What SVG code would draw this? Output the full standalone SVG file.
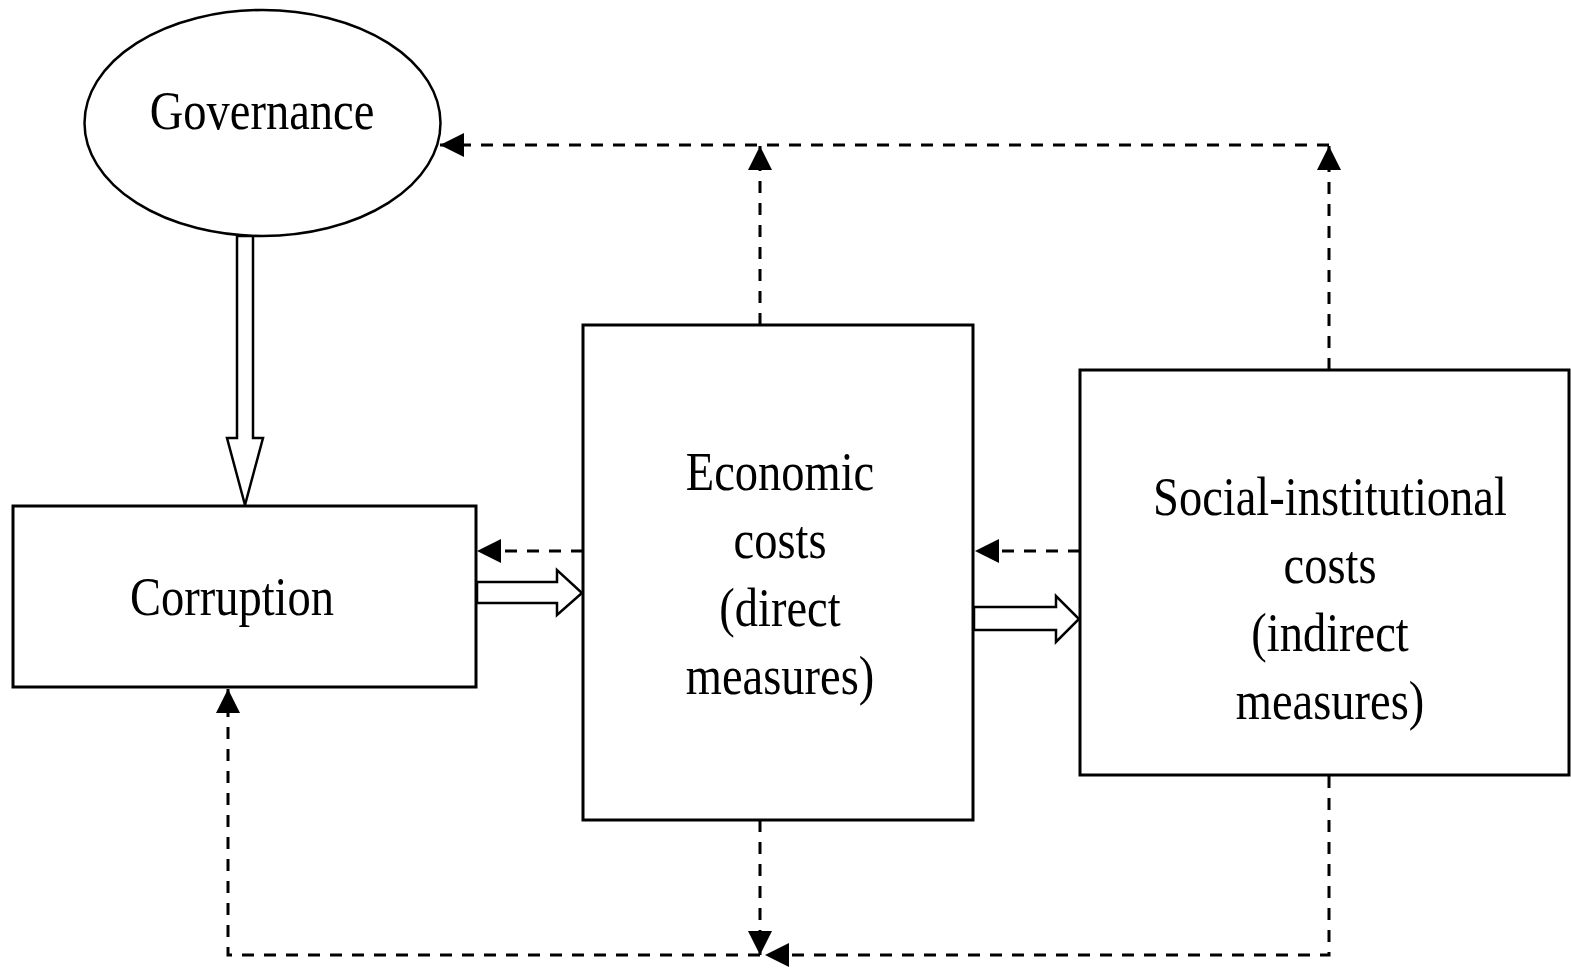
<svg xmlns="http://www.w3.org/2000/svg" width="1571" height="970" viewBox="0 0 1571 970">
<style>
.box{fill:#fff;stroke:#000;stroke-width:3}
.lbl{font-family:"Liberation Serif","Times New Roman",serif;font-size:46.5px;fill:#000;text-anchor:middle}
.dash{fill:none;stroke:#000;stroke-width:3;stroke-dasharray:12 10}
.hollow{fill:#fff;stroke:#000;stroke-width:2.5;stroke-linejoin:miter}
</style>
<defs>
<marker id="ah" viewBox="0 0 24 24" refX="24" refY="12" markerWidth="24" markerHeight="26" markerUnits="userSpaceOnUse" orient="auto">
<path d="M0,0 L24,12 L0,24 z" fill="#000"/>
</marker>
</defs>
<rect width="1571" height="970" fill="#fff"/>
<g id="connectors">
<path class="dash" d="M1329,370 V146" marker-end="url(#ah)"/>
<path class="dash" d="M1329,145 H440" marker-end="url(#ah)"/>
<path class="dash" d="M760,325 V146" marker-end="url(#ah)"/>
<path class="dash" d="M760,820 V955" marker-end="url(#ah)"/>
<path class="dash" d="M1329,776 V955 H765" marker-end="url(#ah)"/>
<path class="dash" d="M760,955 H228 V689" marker-end="url(#ah)"/>
<path class="dash" d="M583,551 H477" marker-end="url(#ah)"/>
<path class="dash" d="M1080,551 H975" marker-end="url(#ah)"/>
<polygon class="hollow" points="237,236 253,236 253,438 263,438 245,505 227,438 237,438"/>
<polygon class="hollow" points="477,582 557,582 557,570 582,593 557,615 557,603 477,603"/>
<polygon class="hollow" points="974,607 1056,607 1056,596 1079,619 1056,642 1056,630 974,630"/>
</g>
<g id="governance">
<ellipse cx="262.5" cy="123" rx="178" ry="113" fill="#fff" stroke="#000" stroke-width="2.5"/>
<text class="lbl" transform="translate(262,129) scale(1,1.2)">Governance</text>
</g>
<g id="corruption">
<rect class="box" x="13" y="506" width="463" height="181"/>
<text class="lbl" transform="translate(232,615) scale(1,1.2)">Corruption</text>
</g>
<g id="economic">
<rect class="box" x="583" y="325" width="390" height="495"/>
<text class="lbl" transform="translate(780,490) scale(1,1.2)">Economic</text>
<text class="lbl" transform="translate(780,558) scale(1,1.2)">costs</text>
<text class="lbl" transform="translate(780,626) scale(1,1.2)">(direct</text>
<text class="lbl" transform="translate(780,694) scale(1,1.2)">measures)</text>
</g>
<g id="social">
<rect class="box" x="1080" y="370" width="489" height="405"/>
<text class="lbl" transform="translate(1330,515) scale(1,1.2)">Social-institutional</text>
<text class="lbl" transform="translate(1330,583) scale(1,1.2)">costs</text>
<text class="lbl" transform="translate(1330,651) scale(1,1.2)">(indirect</text>
<text class="lbl" transform="translate(1330,719) scale(1,1.2)">measures)</text>
</g>
</svg>
